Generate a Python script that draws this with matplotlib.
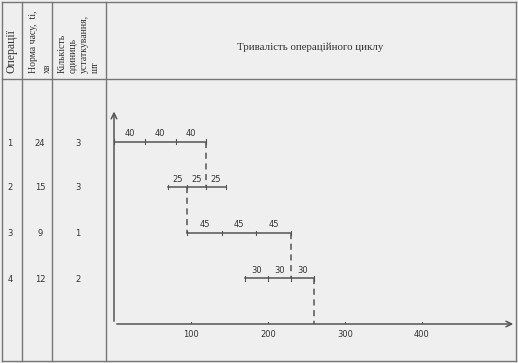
import matplotlib.pyplot as plt

# дані таблиці
ops = [1, 2, 3, 4]
norm = [24, 15, 9, 12]
units = [3, 3, 1, 2]
# тривалість однієї частини та момент початку кожної операції
piece = [40, 25, 45, 30]
n_pieces = [3, 3, 3, 3]
start = [0, 70, 95, 170]
xticks = [100, 200, 300, 400]

bg = '#efefef'
line_c = '#555555'
grid_c = '#777777'

fig = plt.figure(figsize=(5.18, 3.63), dpi=100)
fig.patch.set_facecolor(bg)

# таблиця в піксельних координатах
tab = fig.add_axes([0, 0, 1, 1])
tab.set_xlim(0, 518)
tab.set_ylim(363, 0)
tab.axis('off')
tab.set_facecolor('none')

for x in [1.5, 22, 52, 106, 516]:
    tab.plot([x, x], [1.5, 361], color=grid_c, lw=1)
for y in [1.5, 79, 361]:
    tab.plot([1.5, 516], [y, y], color=grid_c, lw=1)

serif = 'Liberation Serif'
hdr = dict(rotation=90, va='bottom', ha='center', fontsize=7, family=serif, color='#333333')
tab.text(11, 73, 'Операції', **dict(hdr, fontsize=8.5))
tab.text(33, 73, 'Норма часу,  tі,', **hdr)
tab.text(47, 73, 'хв', **hdr)
tab.text(62, 73, 'Кількість', **hdr)
tab.text(73, 73, 'одиниць', **hdr)
tab.text(84, 73, 'устаткування,', **hdr)
tab.text(95, 73, 'шт', **hdr)
tab.text(310, 47, 'Тривалість операційного циклу', ha='center', va='center',
         fontsize=7.8, family=serif, color='#333333')

row_y = [143, 188, 234, 280]
for y, o, t, n in zip(row_y, ops, norm, units):
    tab.text(10, y, str(o), ha='center', va='center', fontsize=6, color='#333333')
    tab.text(40, y, str(t), ha='center', va='center', fontsize=6, color='#333333')
    tab.text(78, y, str(n), ha='center', va='center', fontsize=6, color='#333333')

# графік
px_per_unit_y = 45.6
ax = fig.add_axes([114 / 518, 39 / 363, 402 / 518, 219 / 363])
ax.set_xlim(0, 402 / 0.77)
ax.set_ylim(0, 219 / px_per_unit_y)
ax.axis('off')
ax.set_facecolor('none')

ax.annotate('', xy=(402 / 0.77, 0), xytext=(0, 0),
            arrowprops=dict(arrowstyle='->', color=line_c, lw=1.1))
ax.annotate('', xy=(0, 4.72), xytext=(0, 0),
            arrowprops=dict(arrowstyle='->', color=line_c, lw=1.1))
for v in xticks:
    ax.plot([v, v], [-0.05, 0.05], color=line_c, lw=0.8)
    ax.annotate(str(v), (v, 0), xytext=(0, -4), textcoords='offset points',
                ha='center', va='top', fontsize=6, color='#333333')

levels = [5 - o for o in ops]
for lev, p, n, s in zip(levels, piece, n_pieces, start):
    end = s + p * n
    ax.plot([s, end], [lev, lev], color=line_c, lw=1.1)
    for k in range(n + 1):
        xk = s + p * k
        ax.plot([xk, xk], [lev - 0.05, lev + 0.05], color=line_c, lw=0.8)
    for k in range(n):
        ax.annotate(str(p), (s + p * k + p / 2, lev), xytext=(0, 2.5),
                    textcoords='offset points', ha='center', va='bottom',
                    fontsize=6, color='#333333')

# пунктирні переходи між операціями
for i in range(len(ops)):
    lev = levels[i]
    if i + 1 < len(ops):
        if piece[i + 1] < piece[i]:
            x = start[i] + piece[i] * n_pieces[i]
        else:
            x = start[i] + piece[i]
        ax.plot([x, x], [lev, lev - 1], color=line_c, lw=1.1, ls=(0, (4, 3)))
    else:
        x = start[i] + piece[i] * n_pieces[i]
        ax.plot([x, x], [lev, 0], color=line_c, lw=1.1, ls=(0, (4, 3)))

fig.savefig('out.png', dpi=100, facecolor=bg)
